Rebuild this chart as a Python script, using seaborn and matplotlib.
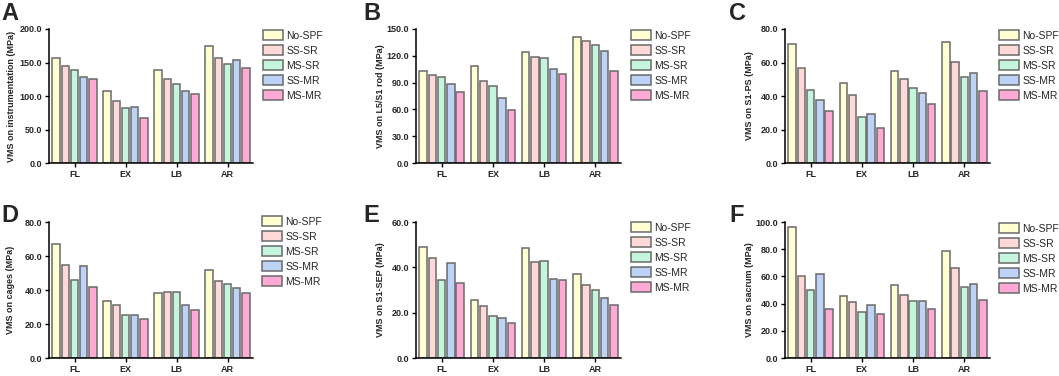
import numpy as np
import pandas as pd
import seaborn as sns
import matplotlib.pyplot as plt

import warnings
warnings.filterwarnings("ignore")

motions = ['FL', 'EX', 'LB', 'AR']
configs = ['No-SPF', 'SS-SR', 'MS-SR', 'SS-MR', 'MS-MR']
colors = ['#FFFFD2', '#FFD8D8', '#C6F5DE', '#BCD3F5', '#FFAAD5']

# values per motion (FL, EX, LB, AR) for each configuration
instr_vals = [[156, 108, 139, 174], [145, 92, 125, 157], [139, 81.5, 118.5, 148.5],
              [128, 83, 107, 153], [125, 66.5, 102.5, 141.5]]
rod_vals = [[102.5, 108.5, 124, 140.5], [98, 92, 118.5, 137], [96, 86.5, 117.5, 132.5],
            [88, 72.5, 105.5, 125], [80, 59, 99.5, 103]]
ps_vals = [[71, 48, 55, 72], [56.5, 40.5, 50, 60.5], [43.5, 27.5, 45, 51.5],
           [37.5, 29.5, 41.5, 54], [31, 21, 35, 43]]
cage_vals = [[67, 33.5, 38.5, 52], [54.5, 31, 39, 45.5], [46, 25.5, 39, 43.5],
             [54, 25.5, 31, 41], [42, 23, 28.5, 38]]
sep_vals = [[49, 25.5, 48.5, 37], [44, 23, 42.5, 32], [34.5, 18.5, 43, 30],
            [42, 17.5, 35, 26.5], [33, 15.5, 34.5, 23.5]]
sacrum_vals = [[96.5, 45.5, 54, 79], [60.5, 41, 46.5, 66.5], [50, 33.5, 42, 52.5],
               [61.5, 39, 42, 54.5], [36, 32.5, 36, 43]]

ylabels = ['VMS on instrumentation (MPa)', 'VMS on L5/S1 rod (MPa)', 'VMS on S1-PS (MPa)',
           'VMS on cages (MPa)', 'VMS on S1-SEP (MPa)', 'VMS on sacrum (MPa)']
letters = ['A', 'B', 'C', 'D', 'E', 'F']
ymax = [200, 150, 80, 80, 60, 100]
ystep = [50, 30, 20, 20, 20, 20]

W, H = 1059, 376
# axes boxes in pixels: left, right, top, bottom
boxes = [(49, 253, 29, 163), (416, 621, 29, 163), (785, 990, 29, 163),
         (49, 253, 222, 358), (416, 621, 222, 358), (785, 990, 222, 358)]
legend_pos = [(259, 26), (627, 26), (995, 26), (258, 212), (627, 218), (995, 219)]
letter_pos = [(1, 20), (363, 20), (729, 20), (1, 222), (363, 222), (729, 222)]
ylabel_x = [16, 385, 754, 15, 385, 754]

sns.set_style('ticks')
plt.rcParams['font.family'] = ['Liberation Sans', 'DejaVu Sans']

fig = plt.figure(figsize=(W / 100, H / 100), dpi=100)

panels = [instr_vals, rod_vals, ps_vals, cage_vals, sep_vals, sacrum_vals]
for i, vals in enumerate(panels):
    l, r, t, b = boxes[i]
    ax = fig.add_axes([l / W, 1 - b / H, (r - l) / W, (b - t) / H])
    df = pd.DataFrame({
        'Motion': np.tile(motions, len(configs)),
        'Config': np.repeat(configs, len(motions)),
        'VMS': np.array(vals).ravel(),
    })
    sns.barplot(data=df, x='Motion', y='VMS', hue='Config', order=motions, hue_order=configs,
                palette=colors, edgecolor='#6a6a6a', linewidth=1.1, width=0.9, gap=0.18,
                saturation=1, ax=ax)
    ax.set_xlim(-0.5, 3.5)
    ax.set_ylim(0, ymax[i])
    ticks = np.arange(0, ymax[i] + 0.1, ystep[i])
    ax.set_yticks(ticks)
    ax.set_yticklabels([f'{v:.1f}' for v in ticks])
    ax.set_xlabel('')
    ax.set_ylabel(ylabels[i], fontsize=6.5, fontweight='bold')
    ax.yaxis.set_label_coords((ylabel_x[i] - l) / (r - l), 0.5)
    for lab in ax.get_xticklabels() + ax.get_yticklabels():
        lab.set_fontweight('bold')
        lab.set_fontsize(6.5)
    ax.tick_params(axis='both', length=3, width=1, color='black', pad=2)
    for s in ['left', 'bottom']:
        ax.spines[s].set_linewidth(1.1)
        ax.spines[s].set_color('black')
    sns.despine(ax=ax)
    lx, ly = legend_pos[i]
    ax.legend(loc='upper left', bbox_to_anchor=(lx / W, 1 - ly / H), bbox_transform=fig.transFigure,
              frameon=False, fontsize=7.5, handlelength=1.9, handleheight=1.05,
              labelspacing=0.45, handletextpad=0.3, borderaxespad=0)
    fx, fy = letter_pos[i]
    fig.text(fx / W, 1 - fy / H, letters[i], fontsize=17, fontweight='bold', va='baseline')

plt.savefig('out.png', dpi=100)
